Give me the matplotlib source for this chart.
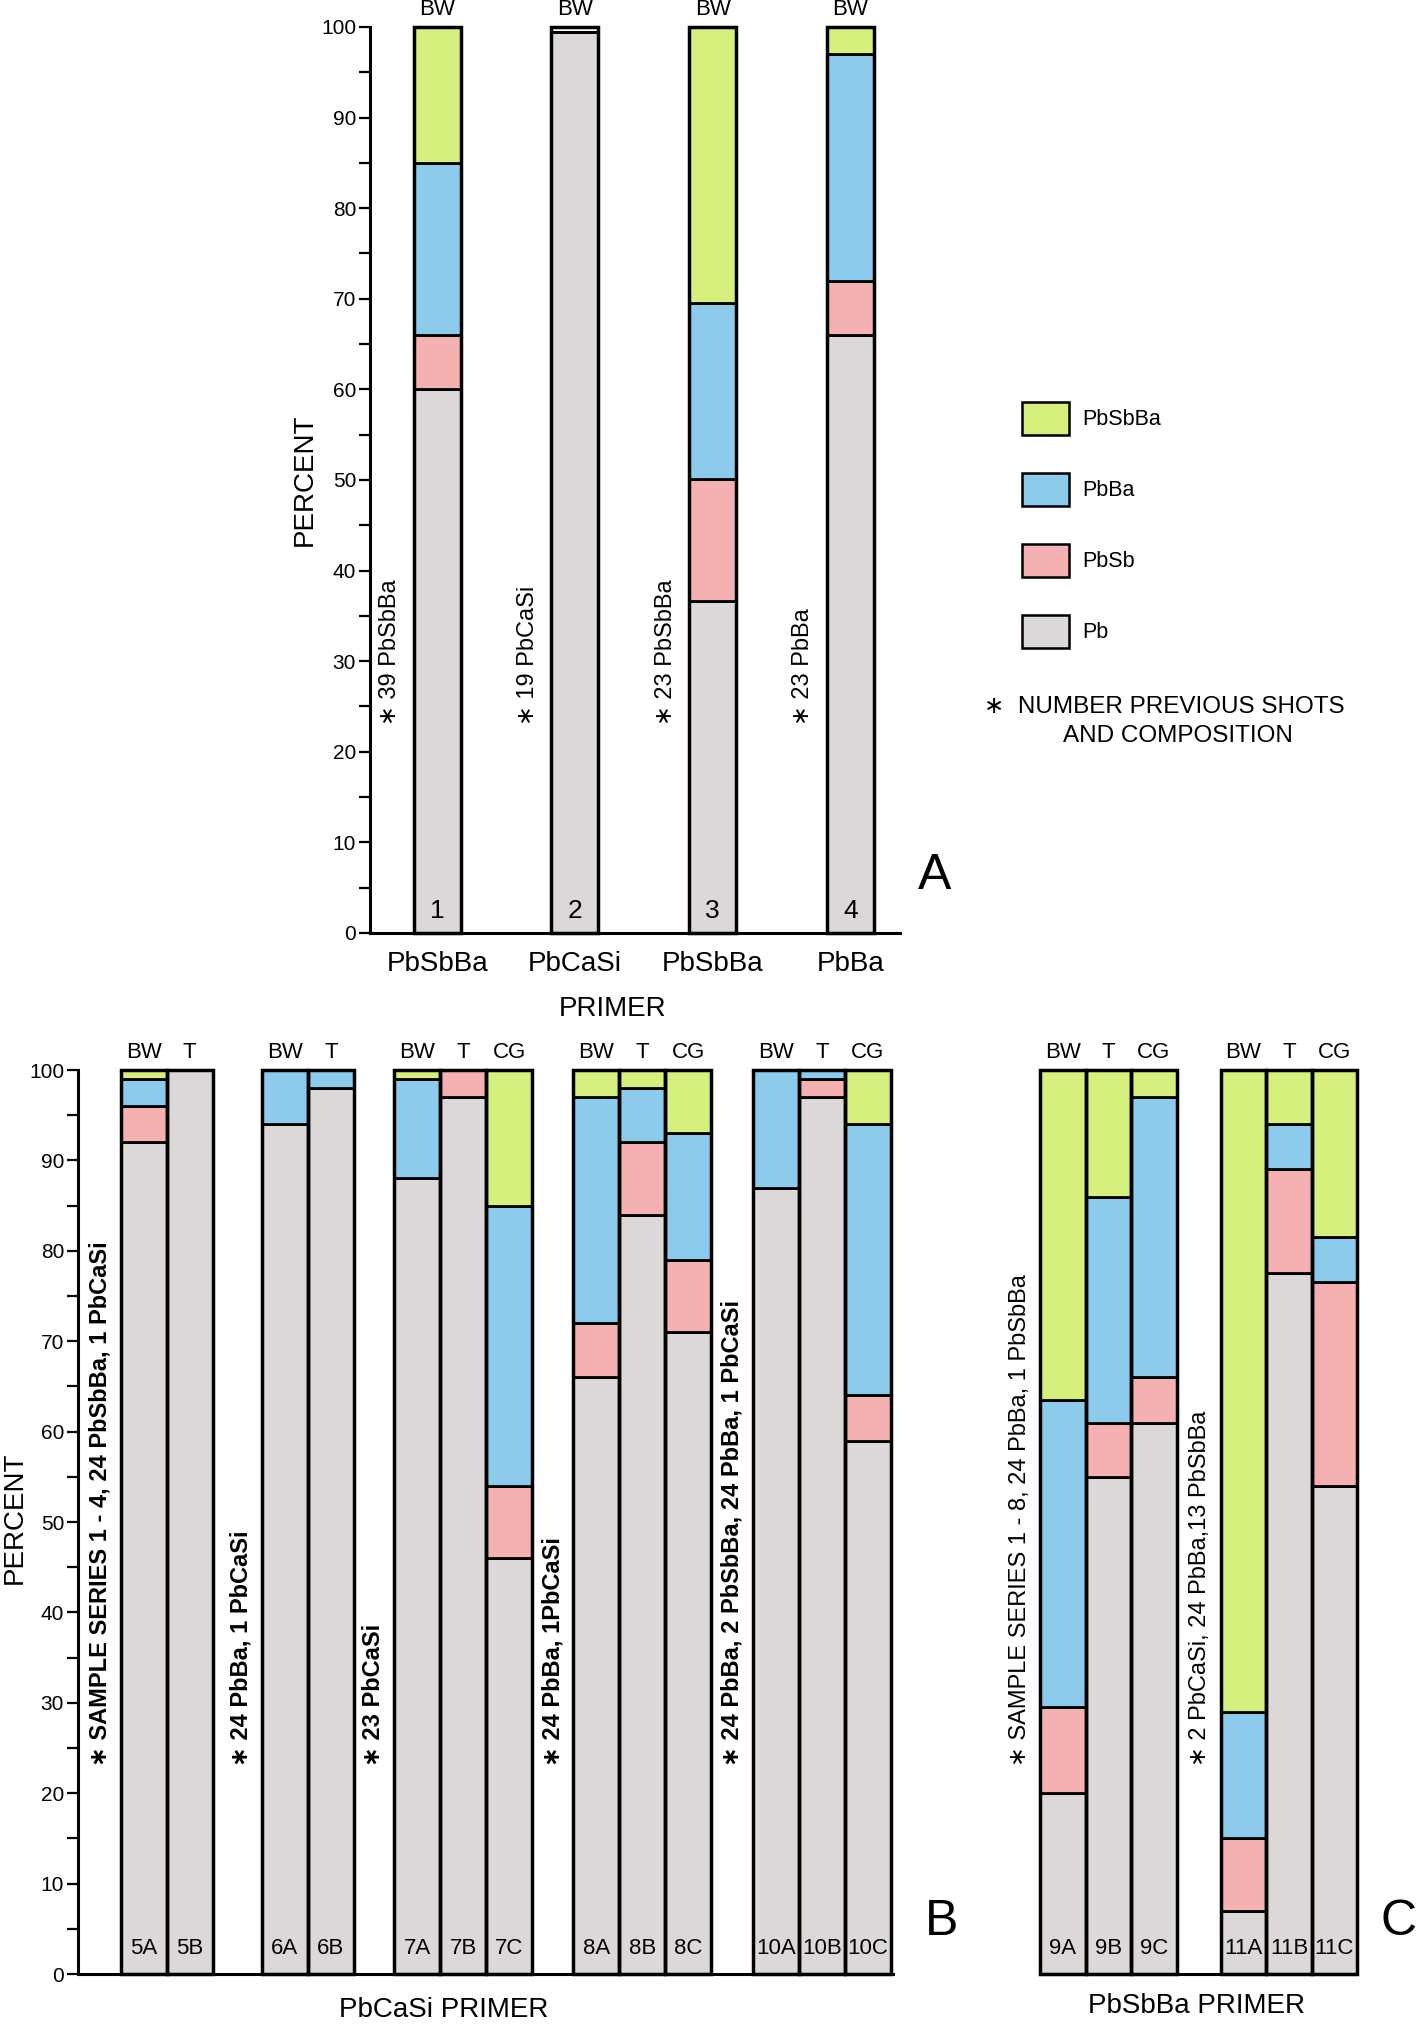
import matplotlib
matplotlib.use("Agg")
import matplotlib.pyplot as plt
from matplotlib.patches import Patch
from matplotlib.ticker import MultipleLocator

plt.rcParams['font.family'] = ['Liberation Sans', 'DejaVu Sans']

# ---- data -------------------------------------------------------------
# segment order bottom -> top: Pb, PbSb, PbBa, PbSbBa
series_names = ['Pb', 'PbSb', 'PbBa', 'PbSbBa']
series_colors = ['#dcd8d7', '#f5b1b1', '#8ccbeb', '#d6f07e']

# panel A
samples_a = ['1', '2', '3', '4']
tops_a = ['BW', 'BW', 'BW', 'BW']
primer_a = ['PbSbBa', 'PbCaSi', 'PbSbBa', 'PbBa']
groups_a = [1, 1, 1, 1]
pb_a = [60, 99.5, 36.6, 66]
pbsb_a = [6, 0, 13.5, 6]
pbba_a = [19, 0, 19.4, 25]
pbsbba_a = [15, 0, 30.5, 3]
notes_a = ['39 PbSbBa', '19 PbCaSi', '23 PbSbBa', '23 PbBa']

# panel B
samples_b = ['5A', '5B', '6A', '6B', '7A', '7B', '7C', '8A', '8B', '8C', '10A', '10B', '10C']
tops_b = ['BW', 'T', 'BW', 'T', 'BW', 'T', 'CG', 'BW', 'T', 'CG', 'BW', 'T', 'CG']
groups_b = [2, 2, 3, 3, 3]
pb_b = [92, 100, 94, 98, 88, 97, 46, 66, 84, 71, 87, 97, 59]
pbsb_b = [4, 0, 0, 0, 0, 3, 8, 6, 8, 8, 0, 2, 5]
pbba_b = [3, 0, 6, 2, 11, 0, 31, 25, 6, 14, 13, 1, 30]
pbsbba_b = [1, 0, 0, 0, 1, 0, 15, 3, 2, 7, 0, 0, 6]
notes_b = ['SAMPLE SERIES 1 - 4, 24 PbSbBa, 1 PbCaSi', '24 PbBa, 1 PbCaSi', '23 PbCaSi',
           '24 PbBa, 1PbCaSi', '24 PbBa, 2 PbSbBa, 24 PbBa, 1 PbCaSi']

# panel C
samples_c = ['9A', '9B', '9C', '11A', '11B', '11C']
tops_c = ['BW', 'T', 'CG', 'BW', 'T', 'CG']
groups_c = [3, 3]
pb_c = [20, 55, 61, 7, 77.5, 54]
pbsb_c = [9.5, 6, 5, 8, 11.5, 22.5]
pbba_c = [34, 25, 31, 14, 5, 5]
pbsbba_c = [36.5, 14, 3, 71, 6, 18.5]
notes_c = ['SAMPLE SERIES 1 - 8, 24 PbBa, 1 PbSbBa', '2 PbCaSi, 24 PbBa,13 PbSbBa']

# ---- figure -----------------------------------------------------------
W, H = 1416, 2025
fig = plt.figure(figsize=(W / 100, H / 100), dpi=100)


def px_axes(x0, y0, x1, y1):
    return fig.add_axes([x0 / W, 1 - y1 / H, (x1 - x0) / W, (y1 - y0) / H])


def bar_lefts(margin, sizes, gaps):
    lefts, starts = [], []
    x = margin
    for i, n in enumerate(sizes):
        starts.append(x)
        for k in range(n):
            lefts.append(x + k)
        x += n + (gaps[i] if i < len(gaps) else 0)
    return lefts, starts


def draw_panel(ax, lefts, starts, vals, tops, names, notes, num_size, num_y, note_weight, note_dx):
    centers = [l + 0.5 for l in lefts]
    bottom = [0] * len(lefts)
    for v, c in zip(vals, series_colors):
        ax.bar(centers, v, width=1, bottom=bottom, color=c, edgecolor='black',
               linewidth=2, clip_on=False, zorder=2)
        bottom = [b + h for b, h in zip(bottom, v)]
    ax.bar(centers, 100, width=1, fill=False, edgecolor='black', linewidth=2.5,
           clip_on=False, zorder=3)
    for xc, t, n in zip(centers, tops, names):
        ax.annotate(t, (xc, 100), xytext=(0, 5), textcoords='offset points',
                    ha='center', va='bottom', fontsize=16, annotation_clip=False)
        ax.text(xc, num_y, n, ha='center', va='center', fontsize=num_size, zorder=4)
    for s, note in zip(starts, notes):
        ax.text(s - note_dx, 23, '\u2217 ' + note, rotation=90, ha='center', va='bottom',
                fontsize=17, fontweight=note_weight)


def style_axes(ax, xmax, show_left=True):
    ax.set_ylim(0, 100)
    ax.set_xlim(0, xmax)
    for side in ['top', 'right']:
        ax.spines[side].set_visible(False)
    ax.spines['bottom'].set_linewidth(2.2)
    ax.spines['left'].set_linewidth(2.2)
    if show_left:
        ax.yaxis.set_major_locator(MultipleLocator(10))
        ax.yaxis.set_minor_locator(MultipleLocator(5))
        ax.tick_params(axis='y', which='both', direction='out', length=8, width=1.6,
                       labelsize=15, pad=2)
    else:
        ax.spines['left'].set_visible(False)
        ax.set_yticks([])
    ax.patch.set_alpha(0)


# panel A
ax_a = px_axes(370, 27, 900, 933)
la, sa = bar_lefts(0.93, groups_a, [1.93, 1.93, 1.93])
draw_panel(ax_a, la, sa, [pb_a, pbsb_a, pbba_a, pbsbba_a], tops_a, samples_a, notes_a,
           19, 2.4, 'normal', 0.5)
style_axes(ax_a, 530 / 47)
ax_a.set_xticks([l + 0.5 for l in la])
ax_a.set_xticklabels(primer_a, fontsize=20)
ax_a.tick_params(axis='x', length=0, pad=13)
ax_a.set_ylabel('PERCENT', fontsize=20, labelpad=2)
fig.text(613 / W, 1 - 1009 / H, 'PRIMER', ha='center', va='center', fontsize=20)
fig.text(935 / W, 1 - 876 / H, 'A', ha='center', va='center', fontsize=36)

# panel B
ax_b = px_axes(78, 1070, 893, 1974)
lb, sb = bar_lefts(0.93, groups_b, [1.07, 0.87, 0.9, 0.9])
draw_panel(ax_b, lb, sb, [pb_b, pbsb_b, pbba_b, pbsbba_b], tops_b, samples_b, notes_b,
           16, 2.8, 'bold', 0.45)
style_axes(ax_b, 815 / 46)
ax_b.set_xticks([])
fig.text(15 / W, 1 - 1518 / H, 'PERCENT', rotation=90, ha='center', va='center', fontsize=20)
fig.text(444 / W, 1 - 2010 / H, 'PbCaSi PRIMER', ha='center', va='center', fontsize=20)
fig.text(942 / W, 1 - 1922 / H, 'B', ha='center', va='center', fontsize=36)

# panel C
ax_c = px_axes(1000, 1070, 1357, 1974)
lc, sc = bar_lefts(0.88, groups_c, [0.97])
draw_panel(ax_c, lc, sc, [pb_c, pbsb_c, pbba_c, pbsbba_c], tops_c, samples_c, notes_c,
           16, 2.8, 'normal', 0.45)
style_axes(ax_c, 357 / 45.5, show_left=False)
ax_c.spines['bottom'].set_bounds(0.88, 357 / 45.5)
ax_c.set_xticks([])
fig.text(1196 / W, 1 - 2006 / H, 'PbSbBa PRIMER', ha='center', va='center', fontsize=20)
fig.text(1399 / W, 1 - 1922 / H, 'C', ha='center', va='center', fontsize=36)

# legend
handles = [Patch(facecolor=c, edgecolor='black', linewidth=1.8, label=n)
           for n, c in zip(series_names, series_colors)][::-1]
fig.legend(handles=handles, loc='upper left', bbox_to_anchor=(1022 / W, 1 - 402 / H),
           frameon=False, fontsize=15.5, handlelength=2.2, handleheight=2.0,
           labelspacing=1.75, handletextpad=0.6, borderpad=0, borderaxespad=0)

fig.text(984 / W, 1 - 707 / H, '\u2217  NUMBER PREVIOUS SHOTS', ha='left', va='center', fontsize=17.5)
fig.text(1178 / W, 1 - 736 / H, 'AND COMPOSITION', ha='center', va='center', fontsize=17.5)

fig.savefig('out.png', dpi=100)
